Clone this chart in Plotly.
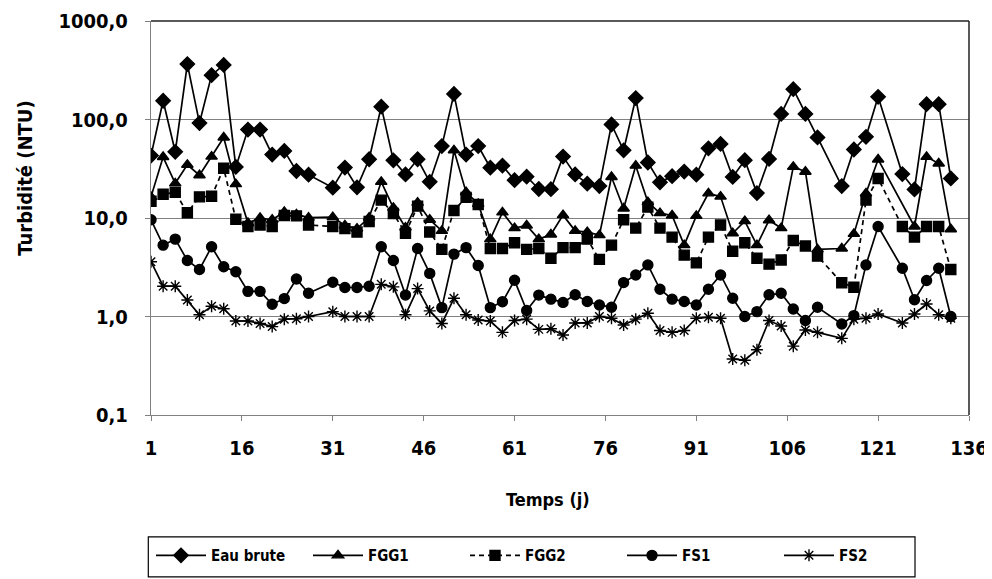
import plotly.graph_objects as go

days = [1, 3, 5, 7, 9, 11, 13, 15, 17, 19, 21, 23, 25, 27, 31, 33, 35, 37, 39, 41,
        43, 45, 47, 49, 51, 53, 55, 57, 59, 61, 63, 65, 67, 69, 71, 73, 75, 77, 79, 81,
        83, 85, 87, 89, 91, 93, 95, 97, 99, 101, 103, 105, 107, 109, 111, 115, 117, 119, 121,
        125, 127, 129, 131, 133]

eau_brute = [43, 155, 47, 365, 92, 282, 358, 33, 79, 79, 44, 48, 30, 27.5, 20.3, 32.5, 20.5, 39.5, 135, 38.5,
             27.7, 39.5, 23.3, 53.7, 182, 44, 53.7, 32.4, 34, 24.2, 26.3, 19.7, 19.6, 42, 27.7, 22.3, 21.1, 89, 48.7, 165,
             36.6, 23, 26.6, 29.6, 27.5, 51, 56.5, 26.1, 38.6, 17.9, 39.8, 114, 203, 114, 65.7, 21.1, 49.6, 66.7, 170,
             27.9, 19.5, 143, 143, 25.2]

fgg1 = [16.4, 41.6, 22.5, 34.7, 27.2, 42, 65.7, 22.1, 8.9, 10, 9.6, 11.5, 10.9, 10.1, 10.2, 8.4, 7.8, 10.1, 23.3, 12.7,
        8.0, 14.3, 9.6, 7.4, 48.7, 18.3, 13.9, 6.1, 11.4, 7.9, 8.4, 6.1, 6.8, 10.7, 7.4, 7.2, 6.7, 26.1, 12.5, 34,
        14.5, 11.2, 10.6, 5.3, 10.5, 17.8, 16.5, 7.0, 9.3, 5.3, 9.5, 7.9, 33.1, 29.5, 4.8, 4.9, 6.9, 17.8, 39.3,
        None, 8.2, 41.8, 35.8, 7.7]

fgg2 = [14.8, 17.4, 18.2, 11.3, 16.4, 16.6, 32, 9.7, 8.2, 8.5, 8.2, 10.6, 10.5, 8.5, 8.2, 7.8, 7.2, 9.2, 15.2, 11.1,
        7.0, 13.2, 7.2, 4.8, 11.9, 16.2, 13.7, 4.9, 4.9, 5.6, 4.8, 4.9, 3.9, 5.0, 5.0, 6.1, 3.8, 5.3, 9.6, 7.9,
        12.9, 7.9, 6.4, 4.2, 3.5, 6.4, 8.5, 4.6, 5.6, 3.9, 3.4, 3.75, 5.9, 5.2, 4.1, 2.2, 1.98, 15.2, 25.2,
        8.2, 6.4, 8.2, 8.2, 3.0]

fs1 = [9.6, 5.3, 6.1, 3.7, 3.0, 5.1, 3.2, 2.85, 1.8, 1.8, 1.33, 1.52, 2.4, 1.72, 2.23, 1.97, 1.97, 2.03, 5.1, 3.7,
       1.65, 4.9, 2.74, 1.23, 4.3, 5.0, 3.3, 1.23, 1.41, 2.33, 1.15, 1.65, 1.5, 1.39, 1.66, 1.42, 1.31, 1.24, 2.21, 2.64,
       3.34, 1.89, 1.5, 1.42, 1.31, 1.89, 2.64, 1.53, 1.0, 1.12, 1.66, 1.72, 1.19, 0.91, 1.24, 0.84, 1.02, 3.34, 8.2,
       3.09, 1.48, 2.32, 3.09, 1.0]

fs2 = [3.6, 2.03, 2.03, 1.47, 1.04, 1.27, 1.2, 0.9, 0.9, 0.85, 0.79, 0.94, 0.95, 1.0, 1.12, 1.0, 1.0, 1.0, 2.12, 2.0,
       1.04, 1.92, 1.14, 0.85, 1.53, 1.04, 0.92, 0.9, 0.69, 0.91, 0.94, 0.74, 0.75, 0.65, 0.86, 0.86, 1.0, 0.96, 0.82, 0.94,
       1.08, 0.72, 0.69, 0.72, 0.96, 0.98, 0.96, 0.37, 0.36, 0.46, 0.91, 0.8, 0.5, 0.73, 0.69, 0.6, 0.94, 0.96, 1.06,
       0.86, 1.06, 1.34, 1.04, 0.96]

y_tickvals = [0.1, 1, 10, 100, 1000]
y_ticktext = ["0,1", "1,0", "10,0", "100,0", "1000,0"]
x_tickvals = [1, 16, 31, 46, 61, 76, 91, 106, 121, 136]

FONT = "DejaVu Sans Condensed, DejaVu Sans, sans-serif"

series = [
    ("Eau brute", eau_brute, "diamond", 11, "solid"),
    ("FGG1", fgg1, "triangle-up", 10, "solid"),
    ("FGG2", fgg2, "square", 10, "5px,4px"),
    ("FS1", fs1, "circle", 10, "solid"),
    ("FS2", fs2, "asterisk-open", 10, "solid"),
]

fig = go.Figure()
for name, vals, sym, size, dash in series:
    fig.add_trace(go.Scatter(
        x=days, y=vals, name=name, mode="lines+markers", connectgaps=True,
        line=dict(color="#000000", width=1.7, dash=dash),
        marker=dict(symbol=sym, size=size, color="#000000",
                    line=dict(color="#000000", width=1.4)),
    ))

# the page body adds an 8px offset, so the margins are shifted to compensate
fig.update_layout(
    width=992, height=579,
    margin=dict(l=143, r=31, t=13, b=172, autoexpand=False),
    paper_bgcolor="white", plot_bgcolor="white",
    font=dict(family=FONT, color="#000000"),
    showlegend=True,
    legend=dict(
        orientation="h", x=0.0, y=-0.315, xanchor="left", yanchor="top",
        font=dict(family=FONT, size=15, color="#000000", weight="bold"),
        borderwidth=0, bgcolor="rgba(0,0,0,0)",
        itemwidth=50, entrywidth=92,
    ),
    xaxis=dict(
        range=[1, 136], tickvals=x_tickvals, ticktext=[str(v) for v in x_tickvals],
        showgrid=False, zeroline=False,
        showline=True, linecolor="#808080", linewidth=1.2,
        ticks="outside", ticklen=5, tickcolor="#808080",
        tickfont=dict(family=FONT, size=20, color="#000000", weight="bold"),
        ticklabelstandoff=10,
    ),
    yaxis=dict(
        type="log", range=[-1, 3], tickvals=y_tickvals, ticktext=y_ticktext,
        showgrid=True, gridcolor="#808080", gridwidth=1.2,
        zeroline=False, showline=True, linecolor="#808080", linewidth=1.2,
        ticks="outside", ticklen=5, tickcolor="#808080",
        tickfont=dict(family=FONT, size=20, color="#000000", weight="bold"),
        ticklabelstandoff=13,
    ),
    annotations=[
        dict(text="Temps (j)", xref="paper", yref="paper", x=0.485, y=-0.215,
             xanchor="center", yanchor="middle", showarrow=False,
             font=dict(family=FONT, size=18, color="#000000", weight="bold")),
        dict(text="Turbidité (NTU)", xref="paper", yref="paper", x=-0.154, y=0.60,
             xanchor="center", yanchor="middle", showarrow=False, textangle=-90,
             font=dict(family=FONT, size=20, color="#000000", weight="bold")),
    ],
    shapes=[
        dict(type="line", xref="paper", yref="paper", x0=0, x1=1, y0=1, y1=1,
             line=dict(color="#222222", width=1.5)),
        dict(type="line", xref="paper", yref="paper", x0=1, x1=1, y0=0, y1=1,
             line=dict(color="#222222", width=1.5)),
        dict(type="rect", xref="paper", yref="paper", x0=-0.0033, x1=0.934,
             y0=-0.3094, y1=-0.411, line=dict(color="#000000", width=1.2),
             fillcolor="rgba(0,0,0,0)", layer="above"),
    ],
)

fig.write_html("out.html")
